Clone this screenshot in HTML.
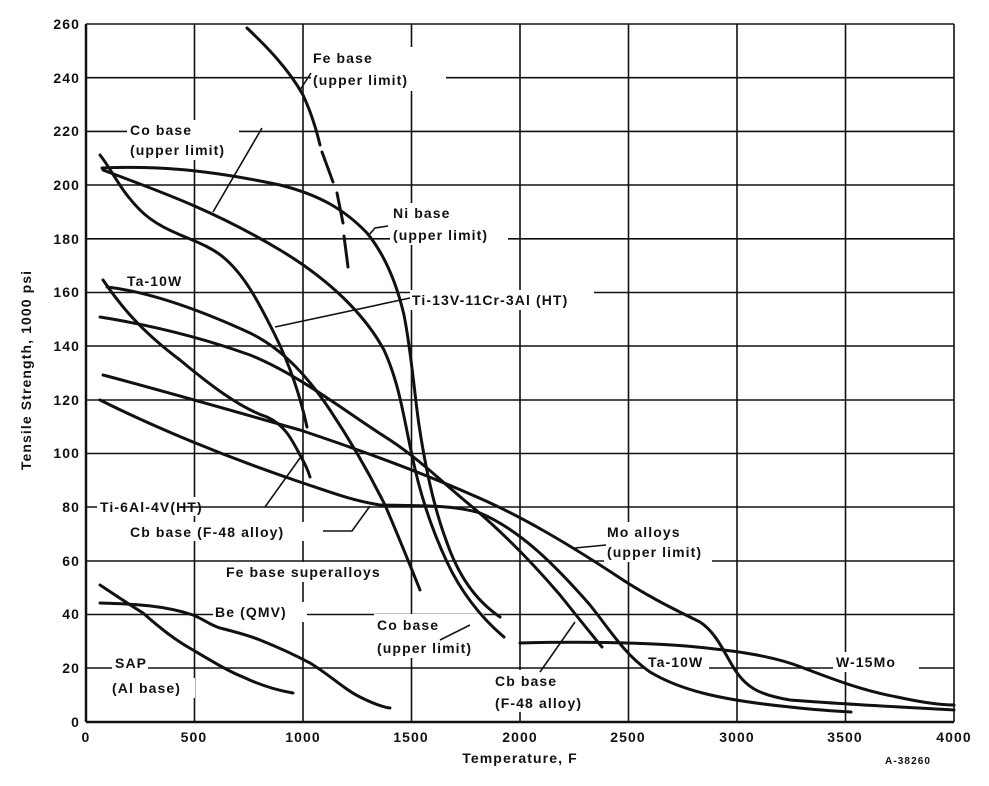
<!DOCTYPE html>
<html><head><meta charset="utf-8"><style>
html,body{margin:0;padding:0;background:#fff}
svg{display:block}
text{font-family:"Liberation Sans",sans-serif;font-weight:bold;fill:#111;letter-spacing:1.1px}
</style></head><body>
<svg width="989" height="786" viewBox="0 0 989 786" xmlns="http://www.w3.org/2000/svg">
<g stroke="#111" stroke-width="1.6" fill="none">
<path d="M86,24V722M194.5,24V722M303,24V722M411.5,24V722M520,24V722M628.5,24V722M737,24V722M845.5,24V722M954,24V722"/>
<path d="M86,24H954M86,77.7H954M86,131.4H954M86,185H954M86,238.8H954M86,292.5H954M86,346H954M86,400H954M86,453.5H954M86,507H954M86,561H954M86,614.5H954M86,668H954"/>
<path d="M86,722H954" stroke-width="2.5"/>
<path d="M86,24V722" stroke-width="2.5"/>
</g>
<g fill="#fff">
<rect x="311" y="47" width="135" height="44"/>
<rect x="127" y="120" width="112" height="40"/>
<rect x="390" y="203" width="118" height="42"/>
<rect x="124" y="272" width="66" height="18"/>
<rect x="410" y="290" width="184" height="20"/>
<rect x="97" y="497" width="168" height="19"/>
<rect x="127" y="522" width="196" height="19"/>
<rect x="223" y="562" width="170" height="20"/>
<rect x="213" y="602" width="94" height="20"/>
<rect x="112" y="653" width="36" height="20"/>
<rect x="109" y="678" width="86" height="20"/>
<rect x="374" y="614" width="110" height="44"/>
<rect x="492" y="670" width="118" height="42"/>
<rect x="604" y="522" width="108" height="40"/>
<rect x="645" y="652" width="64" height="20"/>
<rect x="833" y="652" width="86" height="20"/>
</g>
<g stroke="#111" stroke-width="3" fill="none" stroke-linecap="round" stroke-linejoin="round">
<path d="M247,28 C265,45 288,68 303,95 C310,110 316,128 320,145"/>
<path d="M322,152 L333,182"/>
<path d="M337,193 L343,223"/>
<path d="M344,236 L348,267"/>
<path d="M102,168 C150,166 200,168 280,185 C320,195 345,210 367,233 C385,255 397,285 404,315 C411,350 414,390 419,425 C425,465 433,505 446,540 C458,575 475,600 500,617"/>
<path d="M103,170 C150,188 210,208 280,250 C330,280 365,315 384,350 C400,385 404,420 412,455 C420,495 432,530 447,562 C460,590 480,617 504,637"/>
<path d="M100,155 C112,170 120,190 140,210 C165,235 200,238 223,257 C245,275 260,305 274,333 C290,365 300,395 307,427"/>
<path d="M103,280 C120,305 140,330 180,360 C210,385 240,408 267,417 C285,425 292,440 300,455 C304,462 308,470 310,477"/>
<path d="M107,287 C150,292 200,310 250,333 C285,350 310,380 330,410 C350,440 370,475 385,505 C400,540 410,565 420,590"/>
<path d="M100,317 C150,325 200,337 250,355 C300,375 350,415 390,440 C420,460 440,480 470,505 C500,530 530,560 560,595 C580,620 592,635 602,647"/>
<path d="M103,375 C160,390 230,410 300,430 C360,450 420,472 470,494 C520,515 570,545 620,578 C650,598 680,612 700,622 C715,632 722,648 732,665 C745,688 760,695 790,700 C840,704 900,707 954,710"/>
<path d="M100,400 C150,425 220,455 300,482 C330,492 350,500 380,505 C410,506 450,504 480,513 C520,530 555,565 590,605 C610,630 625,655 650,672 C680,690 720,700 790,707 C815,710 835,711 851,712"/>
<path d="M520,643 C560,642 620,641 686,646 C730,650 770,655 801,667 C830,678 860,690 897,697 C920,702 940,705 954,705"/>
<path d="M100,585 C115,595 130,605 143,613 C160,628 175,640 193,650 C215,663 230,672 243,677 C260,685 275,690 293,693"/>
<path d="M100,603 C125,604 160,604 193,615 C205,620 210,625 220,628 C240,633 250,636 260,640 C280,648 295,655 310,663 C330,675 345,690 360,697 C372,703 382,707 390,708"/>
</g>
<g stroke="#111" stroke-width="1.6" fill="none">
<path d="M311,73 L300,90"/>
<path d="M262,128 L213,212"/>
<path d="M388,226 L375,228 L368,236"/>
<path d="M410,298 L275,327"/>
<path d="M180,507 L265,507 L300,458"/>
<path d="M323,531 L352,531 L370,506"/>
<path d="M470,625 L440,640"/>
<path d="M540,672 L575,622"/>
<path d="M606,545 L575,548"/>
</g>
<g font-size="14">
<text x="313" y="63">Fe base</text>
<text x="313" y="85">(upper limit)</text>
<text x="130" y="135">Co base</text>
<text x="130" y="155">(upper limit)</text>
<text x="393" y="218">Ni base</text>
<text x="393" y="240">(upper limit)</text>
<text x="127" y="286">Ta-10W</text>
<text x="412" y="305">Ti-13V-11Cr-3Al (HT)</text>
<text x="100" y="512">Ti-6Al-4V(HT)</text>
<text x="130" y="537">Cb base (F-48 alloy)</text>
<text x="226" y="577">Fe base superalloys</text>
<text x="215" y="617">Be (QMV)</text>
<text x="115" y="668">SAP</text>
<text x="112" y="693">(Al base)</text>
<text x="377" y="630">Co base</text>
<text x="377" y="653">(upper limit)</text>
<text x="495" y="686">Cb base</text>
<text x="495" y="708">(F-48 alloy)</text>
<text x="607" y="537">Mo alloys</text>
<text x="607" y="557">(upper limit)</text>
<text x="648" y="667">Ta-10W</text>
<text x="836" y="667">W-15Mo</text>
</g>
<g font-size="14" text-anchor="end">
<text x="80" y="727">0</text><text x="80" y="673">20</text><text x="80" y="619">40</text><text x="80" y="566">60</text><text x="80" y="512">80</text><text x="80" y="458">100</text><text x="80" y="405">120</text><text x="80" y="351">140</text><text x="80" y="297">160</text><text x="80" y="244">180</text><text x="80" y="190">200</text><text x="80" y="136">220</text><text x="80" y="83">240</text><text x="80" y="29">260</text>
</g>
<g font-size="14" text-anchor="middle">
<text x="86" y="742">0</text><text x="194" y="742">500</text><text x="303" y="742">1000</text><text x="411" y="742">1500</text><text x="520" y="742">2000</text><text x="628" y="742">2500</text><text x="737" y="742">3000</text><text x="845" y="742">3500</text><text x="954" y="742">4000</text>
<text x="520" y="763">Temperature, F</text>
<text transform="translate(31,370) rotate(-90)">Tensile Strength, 1000 psi</text>
</g>
<text x="885" y="764" font-size="10">A-38260</text>
</svg>
</body></html>
